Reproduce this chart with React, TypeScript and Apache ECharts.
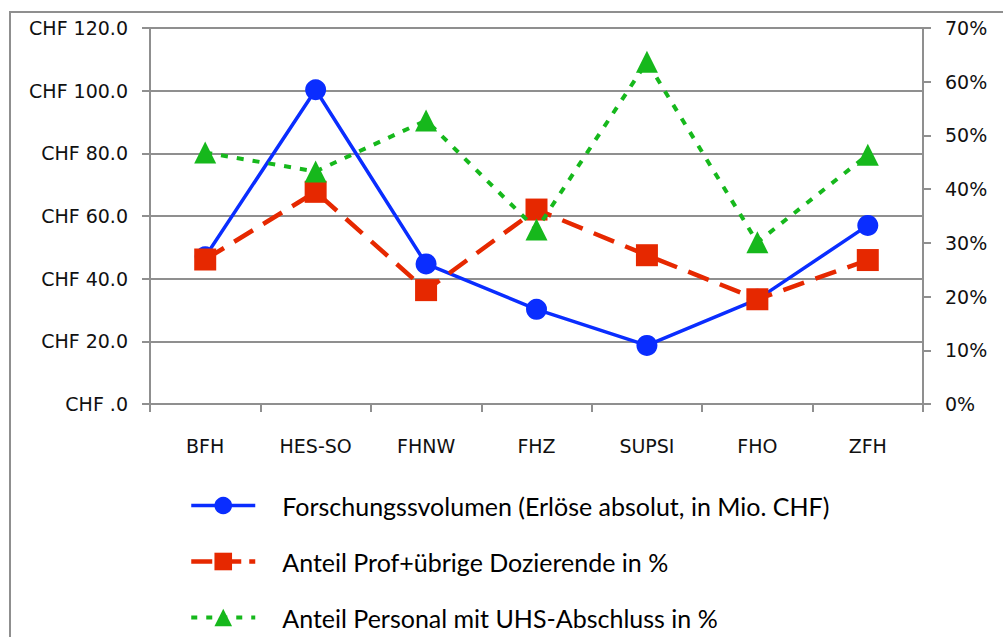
import React, { useEffect, useRef } from "react";
import * as echarts from "echarts";

const categories = ["BFH", "HES-SO", "FHNW", "FHZ", "SUPSI", "FHO", "ZFH"];
const forschungsvolumen = [47.0, 100.3, 44.7, 30.2, 18.7, 33.4, 57.0];
const anteilProf = [26.9, 39.5, 21.2, 36.2, 27.7, 19.5, 26.8];
const anteilUHS = [46.8, 43.3, 52.8, 32.5, 63.7, 30.1, 46.4];
const seriesNames = [
  "Forschungssvolumen (Erlöse absolut, in Mio. CHF)",
  "Anteil Prof+übrige Dozierende in %",
  "Anteil Personal mit UHS-Abschluss in %",
];

const GRAY = "#8f8f8f";
const AX_FONT = "DejaVu Sans";
const BLUE = "#0a2dff";
const RED = "#e62800";
const GREEN = "#16b81c";

export default function App() {
  const ref = useRef<HTMLDivElement>(null);
  useEffect(() => {
    if (!ref.current) return;
    const chart = echarts.init(ref.current, null, { renderer: "svg" });
    const axisLabel = { fontFamily: AX_FONT, fontSize: 19, color: "#111" };
    chart.setOption({
      animation: false,
      backgroundColor: "#ffffff",
      graphic: [
        {
          type: "rect",
          shape: { x: 10, y: 12, width: 1010, height: 650 },
          style: { fill: "none", stroke: GRAY, lineWidth: 2 },
          silent: true,
          z: -1,
        },
      ],
      grid: { left: 150, right: 80, top: 28, bottom: 233 },
      legend: {
        orient: "vertical",
        left: 189,
        top: 493,
        padding: 0,
        itemWidth: 64,
        itemHeight: 22,
        itemGap: 31,
        data: [
          { name: seriesNames[0], lineStyle: { width: 3.5, type: "solid" } },
          { name: seriesNames[1], lineStyle: { width: 4.5, type: [21, 8] } },
          { name: seriesNames[2], lineStyle: { width: 4, type: [6, 9] } },
        ],
        textStyle: {
          fontFamily: "Lato",
          fontSize: 25,
          lineHeight: 24,
          color: "#000",
          padding: [0, 0, 0, 22],
        },
      },
      xAxis: {
        type: "category",
        data: categories,
        boundaryGap: true,
        axisLine: { lineStyle: { color: GRAY, width: 2 } },
        axisTick: { show: true, interval: 0, length: 8, lineStyle: { color: GRAY, width: 2 } },
        axisLabel: { interval: 0, margin: 32, ...axisLabel },
      },
      yAxis: [
        {
          type: "value",
          min: 0,
          max: 120,
          interval: 20,
          position: "left",
          axisLine: { show: true, lineStyle: { color: GRAY, width: 2 } },
          axisTick: { show: true, length: 8, lineStyle: { color: GRAY, width: 2 } },
          splitLine: { show: true, lineStyle: { color: GRAY, width: 2 } },
          axisLabel: {
            margin: 22,
            ...axisLabel,
            formatter: (v: number) => (v === 0 ? "CHF .0" : "CHF " + v.toFixed(1)),
          },
        },
        {
          type: "value",
          min: 0,
          max: 70,
          interval: 10,
          position: "right",
          axisLine: { show: true, lineStyle: { color: GRAY, width: 2 } },
          axisTick: { show: true, length: 8, lineStyle: { color: GRAY, width: 2 } },
          splitLine: { show: false },
          axisLabel: {
            margin: 22,
            ...axisLabel,
            formatter: (v: number) => Math.round(v) + "%",
          },
        },
      ],
      series: [
        {
          name: seriesNames[0],
          type: "line",
          yAxisIndex: 0,
          data: forschungsvolumen,
          symbol: "circle",
          symbolSize: 21,
          lineStyle: { color: BLUE, width: 3.5, type: "solid" },
          itemStyle: { color: BLUE },
          z: 3,
        },
        {
          name: seriesNames[1],
          type: "line",
          yAxisIndex: 1,
          data: anteilProf,
          symbol: "rect",
          symbolSize: 22,
          lineStyle: { color: RED, width: 4.5, type: [22, 12] },
          itemStyle: { color: RED },
          z: 4,
        },
        {
          name: seriesNames[2],
          type: "line",
          yAxisIndex: 1,
          data: anteilUHS,
          symbol: "triangle",
          symbolSize: 22,
          lineStyle: { color: GREEN, width: 4, type: [7, 9] },
          itemStyle: { color: GREEN },
          z: 5,
        },
      ],
    });
    return () => chart.dispose();
  }, []);
  return (
    <div
      ref={ref}
      style={{ position: "absolute", left: 0, top: 0, width: 1003, height: 637 }}
    />
  );
}
